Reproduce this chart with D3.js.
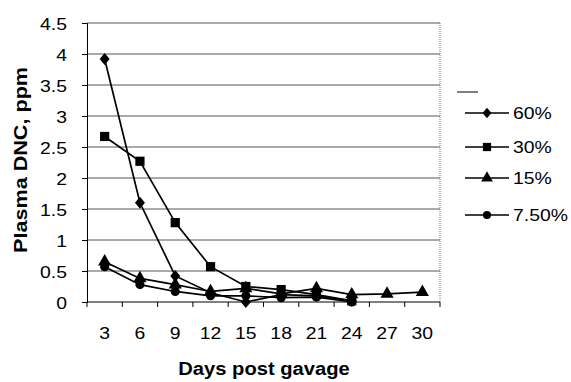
<!DOCTYPE html>
<html><head><meta charset="utf-8">
<script src="https://cdn.jsdelivr.net/npm/d3@7"></script>
<style>body{margin:0;background:#fff}svg{display:block}text{font-family:"Liberation Sans",Arial,sans-serif}</style>
</head><body>
<svg id="c" width="571" height="382"></svg>
<script>
const days = [3,6,9,12,15,18,21,24,27,30];
const seriesNames = ["60%","30%","15%","7.50%"];
const s60 = [3.92,1.6,0.42,0.15,0.0,0.12,0.1,0.02,null,null];
const s30 = [2.67,2.27,1.28,0.57,0.25,0.2,0.12,0.02,null,null];
const s15 = [0.65,0.38,0.28,0.17,0.22,0.13,0.22,0.12,0.13,0.16];
const s75 = [0.57,0.28,0.17,0.1,0.1,0.07,0.08,0.0,null,null];
const yTicks = [0,0.5,1,1.5,2,2.5,3,3.5,4,4.5];

const diamond = {draw(ctx,size){const w=Math.sqrt(size)*0.5,h=w*1.2;ctx.moveTo(0,-h);ctx.lineTo(w,0);ctx.lineTo(0,h);ctx.lineTo(-w,0);ctx.closePath();}};
const symbols = [diamond, d3.symbolSquare, d3.symbolTriangle, d3.symbolCircle];
const symSizes = [100, 85, 75, 65];
const allSeries = [s60,s30,s15,s75];

const svg = d3.select("#c");
const L=87, R=440, T=23, B=302;
const x = d3.scaleBand().domain(days).range([L,R]);
const y = d3.scaleLinear().domain([0,4.5]).range([B,T]);
const stretch = sel => sel.each(function(){const w=this.getComputedTextLength();d3.select(this).attr("textLength",w*1.14).attr("lengthAdjust","spacingAndGlyphs");});

// gridlines
svg.append("g").selectAll("line").data(yTicks.filter(d=>d>0)).join("line")
  .attr("x1",L).attr("x2",R).attr("y1",d=>y(d)).attr("y2",d=>y(d))
  .attr("stroke","#555").attr("stroke-width",1);
svg.append("line").attr("x1",R).attr("x2",R).attr("y1",T).attr("y2",B).attr("stroke","#777").attr("stroke-dasharray","1,1");

// y axis
const ya = svg.append("g").attr("transform",`translate(${L},0)`)
  .call(d3.axisLeft(y).tickValues(yTicks).tickSize(5).tickPadding(15).tickFormat(d=>String(d)));
ya.select(".domain").attr("stroke","#000");
ya.selectAll("text").attr("font-size",17).attr("fill","#000").attr("dy","0.36em").call(stretch);

// x axis
const xa = svg.append("g").attr("transform",`translate(0,${B})`)
  .call(d3.axisBottom(x).tickSize(0).tickPadding(25));
xa.select(".domain").remove();
xa.append("line").attr("x1",L).attr("x2",R).attr("stroke","#000");
xa.selectAll("text").attr("font-size",17).attr("fill","#000").call(stretch);
svg.append("g").selectAll("line").data(days.concat([null])).join("line")
  .attr("x1",(d,i)=>L+i*x.bandwidth()).attr("x2",(d,i)=>L+i*x.bandwidth())
  .attr("y1",B).attr("y2",B+5).attr("stroke","#000");

// axis titles
svg.append("text").attr("transform",`translate(27,${160}) rotate(-90)`)
  .attr("text-anchor","middle").attr("font-size",18).attr("font-weight","bold").text("Plasma DNC, ppm")
  .each(function(){const w=this.getComputedTextLength();d3.select(this).attr("textLength",w*1.2).attr("lengthAdjust","spacingAndGlyphs");});
svg.append("text").attr("x",264).attr("y",375).attr("text-anchor","middle")
  .attr("font-size",18).attr("font-weight","bold").text("Days post gavage")
  .each(function(){const w=this.getComputedTextLength();d3.select(this).attr("textLength",w*1.12).attr("lengthAdjust","spacingAndGlyphs");});

// series
const cx = d => x(d)+x.bandwidth()/2;
allSeries.forEach((vals,i)=>{
  const pts = days.map((d,j)=>({d,v:vals[j]})).filter(p=>p.v!==null);
  svg.append("path").datum(pts)
    .attr("d",d3.line().x(p=>cx(p.d)).y(p=>y(p.v)))
    .attr("fill","none").attr("stroke","#000").attr("stroke-width",1.7);
  svg.append("g").selectAll("path").data(pts).join("path")
    .attr("transform",p=>`translate(${cx(p.d)},${y(p.v)})`)
    .attr("d",d3.symbol().type(symbols[i]).size(symSizes[i])).attr("fill","#000");
});

// legend
svg.append("line").attr("x1",457).attr("x2",478).attr("y1",92).attr("y2",92).attr("stroke","#000");
const ly = [113,147,178,215];
seriesNames.forEach((n,i)=>{
  const g = svg.append("g").attr("transform",`translate(0,${ly[i]})`);
  g.append("line").attr("x1",465).attr("x2",509).attr("stroke","#000").attr("stroke-width",1.7);
  g.append("path").attr("transform","translate(487,0)").attr("d",d3.symbol().type(symbols[i]).size(symSizes[i]*0.8)).attr("fill","#000");
  g.append("text").attr("x",513).attr("y",6).attr("font-size",17).text(n).call(stretch);
});
</script>
</body></html>
